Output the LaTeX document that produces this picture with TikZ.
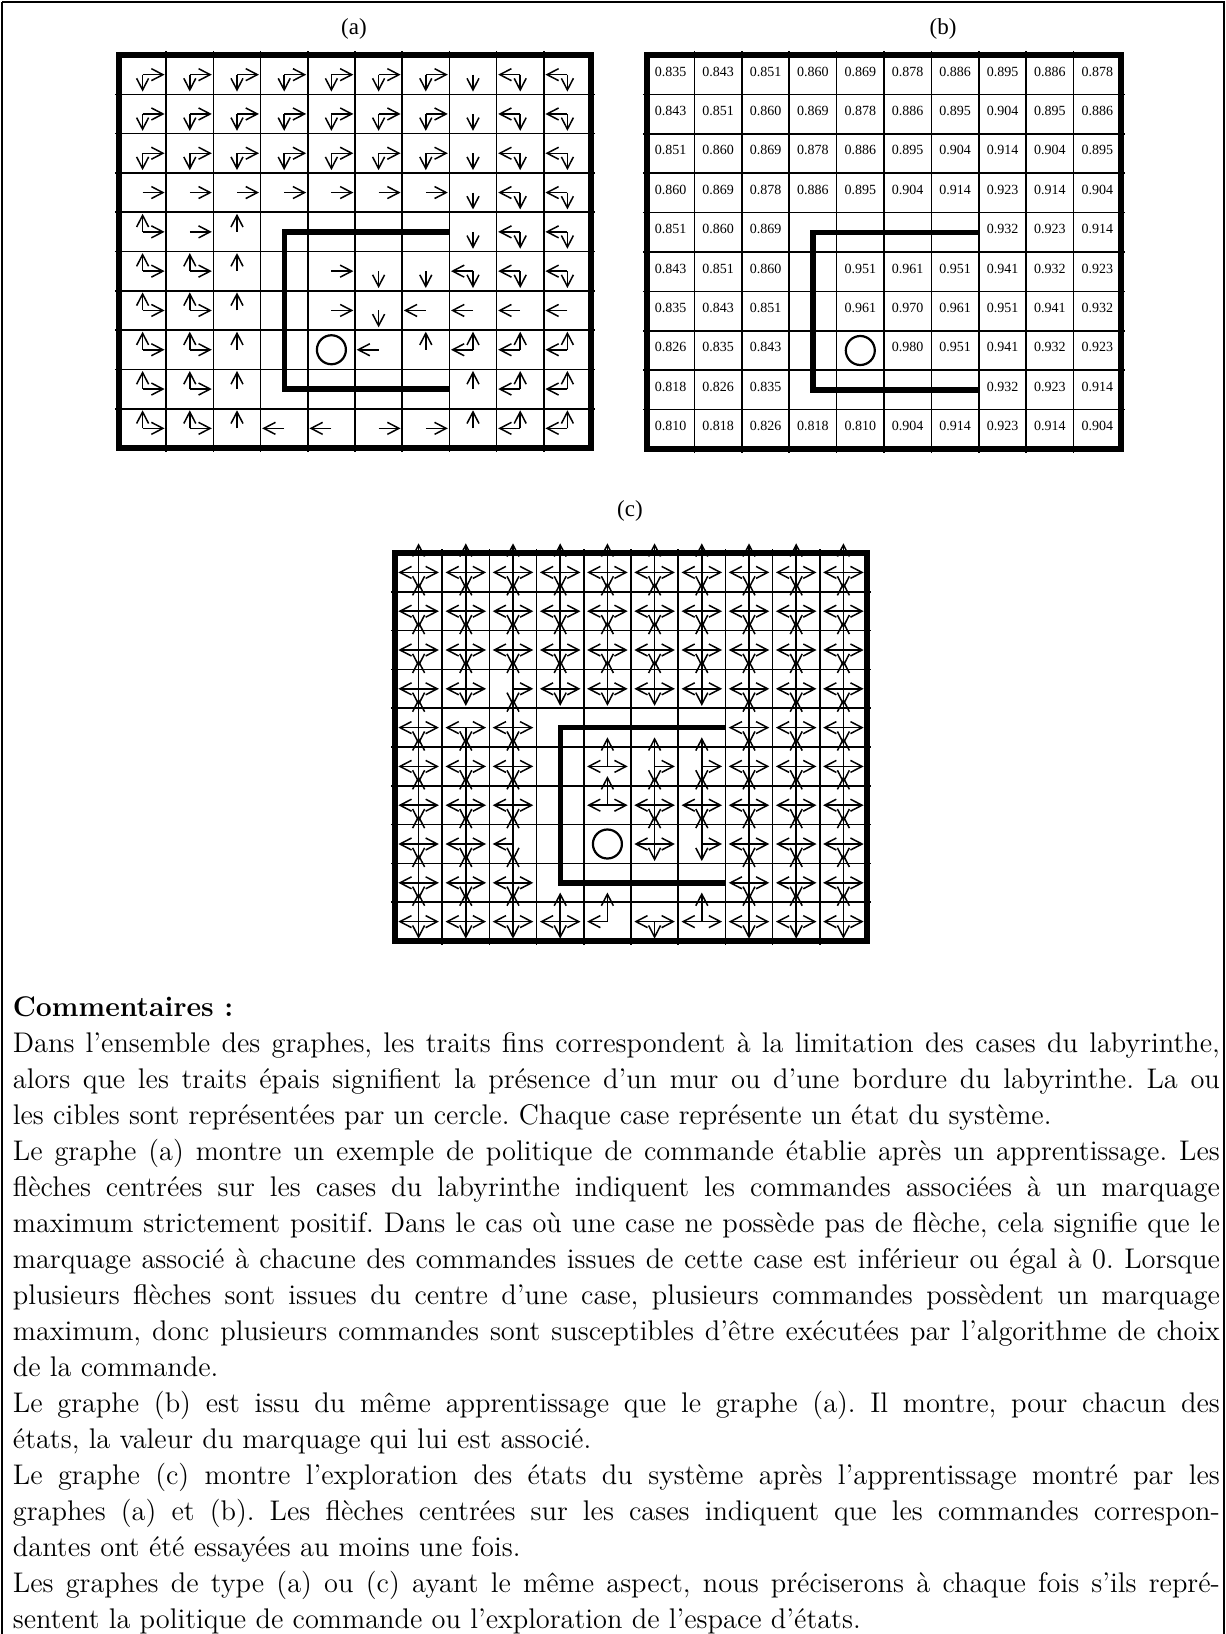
\documentclass[tikz,border=0pt]{standalone}
\usepackage{fontspec}
\newfontfamily\timesf{Liberation Serif}
\usetikzlibrary{arrows.meta}
\tikzset{
  thinl/.style={line width=0.8pt, black},
  thickl/.style={line width=2.7pt, black, line join=miter},
  arr/.style={line width=0.75pt, -{Straight Barb[length=5.8pt,width=6pt]}},
  target/.style={line width=1.1pt},
  lab/.style={font=\timesf\fontsize{11.5}{13}\selectfont, inner sep=0pt},
  val/.style={font=\timesf\fontsize{7}{8}\selectfont, inner sep=0pt},
  frame/.style={line width=0.9pt},
}
\def\cellparse#1#2#3#4#5\relax{\def\fL{#1}\def\fR{#2}\def\fU{#3}\def\fD{#4}}
% #1 = row, #2 = list of LRUD codes for columns 0..9
\newcommand\arrowrow[2]{%
  \foreach \code [count=\ci from 0] in {#2} {%
    \expandafter\cellparse\code\relax
    \if1\fL \draw[arr] (\ci+0.5,#1+0.5) -- ++(-\arH,0);\fi
    \if1\fR \draw[arr] (\ci+0.5,#1+0.5) -- ++(\arH,0);\fi
    \if1\fU \draw[arr] (\ci+0.5,#1+0.5) -- ++(0,-\arU);\fi
    \if1\fD \draw[arr] (\ci+0.5,#1+0.5) -- ++(0,\arD);\fi
  }%
}
\newcommand\valrow[2]{%
  \foreach \v [count=\ci from 0] in {#2} {%
    \node[val] (v#1-\ci) at (\ci+0.5,#1+0.42) {\v};
  }%
}
\newcommand\mazegrid{%
  \foreach \i in {1,...,9} {
    \draw[thinl] (\i,-0.1) -- (\i,10.1);
    \draw[thinl] (-0.085,\i) -- (10.085,\i);
  }
}
\newcommand\mazewalls{%
  \draw[thickl] (0,0) rectangle (10,10);
  \draw[thickl] (7,4.5) -- (3.5,4.5) -- (3.5,8.5) -- (7,8.5);
}
\begin{document}
\begin{tikzpicture}[x=0.5pt,y=-0.5pt]
\useasboundingbox (0,0) rectangle (1226,1634);
\draw[frame] (2,2) -- (2,1634) (1224,1634) -- (1224,2) -- (2,2);

% labels
\node[lab] (la) at (354,29) {(a)};
\node[lab] (lb) at (943,29) {(b)};
\node[lab] (lc) at (630,511) {(c)};

% ---------------- (a) ----------------
\begin{scope}[shift={(119,55)}, x=23.6pt, y=-19.65pt]
  \mazegrid
  \def\arH{0.466}\def\arU{0.46}\def\arD{0.43}
  \arrowrow{0}{0101,0101,0101,0101,0101,0101,0101,0001,1001,1001}
  \arrowrow{1}{0101,0101,0101,0101,0101,0101,0101,0001,1001,1001}
  \arrowrow{2}{0101,0101,0101,0101,0101,0101,0101,0001,1001,1001}
  \arrowrow{3}{0100,0100,0100,0100,0100,0100,0100,0001,1001,1001}
  \arrowrow{4}{0110,0100,0010,0000,0000,0000,0000,0001,1001,1001}
  \arrowrow{5}{0110,0110,0010,0000,0100,0001,0001,1001,1001,1001}
  \arrowrow{6}{0110,0110,0010,0000,0100,0001,1000,1000,1000,1000}
  \arrowrow{7}{0110,0110,0010,0000,0000,1000,0010,1010,1010,1010}
  \arrowrow{8}{0110,0110,0010,0000,0000,0000,0000,0010,1010,1010}
  \arrowrow{9}{0110,0110,0010,1000,1000,0100,0100,0010,1010,1010}
  \mazewalls
  \draw[target] (4.5,7.5) circle[radius=7.25pt];
\end{scope}

% ---------------- (b) ----------------
\begin{scope}[shift={(647,55)}, x=23.7pt, y=-19.7pt]
  \mazegrid
  \valrow{0}{0.835,0.843,0.851,0.860,0.869,0.878,0.886,0.895,0.886,0.878}
  \valrow{1}{0.843,0.851,0.860,0.869,0.878,0.886,0.895,0.904,0.895,0.886}
  \valrow{2}{0.851,0.860,0.869,0.878,0.886,0.895,0.904,0.914,0.904,0.895}
  \valrow{3}{0.860,0.869,0.878,0.886,0.895,0.904,0.914,0.923,0.914,0.904}
  \valrow{4}{0.851,0.860,0.869,{},{},{},{},0.932,0.923,0.914}
  \valrow{5}{0.843,0.851,0.860,{},0.951,0.961,0.951,0.941,0.932,0.923}
  \valrow{6}{0.835,0.843,0.851,{},0.961,0.970,0.961,0.951,0.941,0.932}
  \valrow{7}{0.826,0.835,0.843,{},{},0.980,0.951,0.941,0.932,0.923}
  \valrow{8}{0.818,0.826,0.835,{},{},{},{},0.932,0.923,0.914}
  \valrow{9}{0.810,0.818,0.826,0.818,0.810,0.904,0.914,0.923,0.914,0.904}
  \mazewalls
  \draw[target] (4.5,7.5) circle[radius=7.25pt];
\end{scope}

% ---------------- (c) ----------------
\begin{scope}[shift={(395,553)}, x=23.6pt, y=-19.4pt]
  \mazegrid
  \def\arH{0.43}\def\arU{0.75}\def\arD{0.44}
  \arrowrow{0}{1111,1111,1111,1111,1111,1111,1111,1111,1111,1111}
  \arrowrow{1}{1111,1111,1111,1111,1111,1111,1111,1111,1111,1111}
  \arrowrow{2}{1111,1111,1111,1111,1111,1111,1111,1111,1111,1111}
  \arrowrow{3}{1111,1111,0111,1111,1111,1111,1111,1111,1111,1111}
  \arrowrow{4}{1111,1101,1111,0000,0000,0000,0000,1111,1111,1111}
  \arrowrow{5}{1111,1111,1111,0000,1110,0111,0111,1111,1111,1111}
  \arrowrow{6}{1111,1111,1111,0000,1110,1111,1111,1111,1111,1111}
  \arrowrow{7}{1111,1111,1011,0000,0000,1111,0111,1111,1111,1111}
  \arrowrow{8}{1111,1111,1111,0000,0000,0000,0000,1111,1111,1111}
  \arrowrow{9}{1111,1111,1111,1111,1010,1101,1110,1111,1111,1111}
  \mazewalls
  \draw[target] (4.5,7.5) circle[radius=7.25pt];
\end{scope}

% ---------------- text ----------------
\node[anchor=north west, inner sep=0pt, text width=603.5pt, align=justify,
      font=\fontsize{14.2}{18}\selectfont] (txt) at (12.5,996) {%
\parindent=0pt\frenchspacing
\textbf{Commentaires :}\par
Dans l'ensemble des graphes, les traits fins correspondent à la limitation des cases du labyrinthe,\linebreak
alors que les traits épais signifient la présence d'un mur ou d'une bordure du labyrinthe. La ou\linebreak
les cibles sont représentées par un cercle. Chaque case représente un état du système.\par
Le graphe (a) montre un exemple de politique de commande établie après un apprentissage. Les\linebreak
flèches centrées sur les cases du labyrinthe indiquent les commandes associées à un marquage\linebreak
maximum strictement positif. Dans le cas où une case ne possède pas de flèche, cela signifie que le\linebreak
marquage associé à chacune des commandes issues de cette case est inférieur ou égal à 0. Lorsque\linebreak
plusieurs flèches sont issues du centre d'une case, plusieurs commandes possèdent un marquage\linebreak
maximum, donc plusieurs commandes sont susceptibles d'être exécutées par l'algorithme de choix\linebreak
de la commande.\par
Le graphe (b) est issu du même apprentissage que le graphe (a). Il montre, pour chacun des\linebreak
états, la valeur du marquage qui lui est associé.\par
Le graphe (c) montre l'exploration des états du système après l'apprentissage montré par les\linebreak
graphes (a) et (b). Les flèches centrées sur les cases indiquent que les commandes correspon-\linebreak
dantes ont été essayées au moins une fois.\par
Les graphes de type (a) ou (c) ayant le même aspect, nous préciserons à chaque fois s'ils repré-\linebreak
sentent la politique de commande ou l'exploration de l'espace d'états.};
\end{tikzpicture}
\end{document}
